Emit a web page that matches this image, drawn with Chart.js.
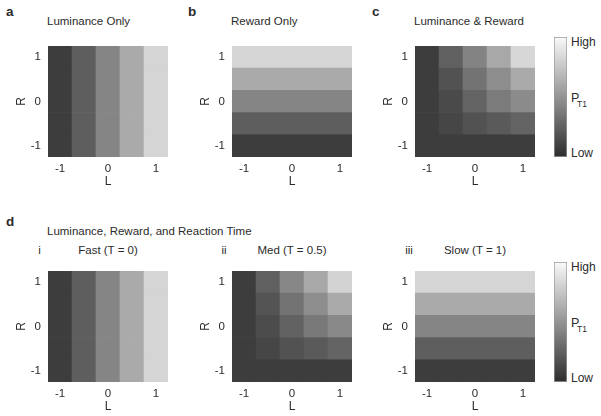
<!DOCTYPE html>
<html>
<head>
<meta charset="utf-8">
<title>P_T1 maps</title>
<script src="https://cdn.jsdelivr.net/npm/chart.js@4.4.0/dist/chart.umd.min.js"></script>
<style>
    body { margin: 0; background: #fff; }
    #fig {
        position: relative;
        width: 601px;
        height: 416px;
        overflow: hidden;
        font-family: "Liberation Sans", Arial, sans-serif;
        color: #2b2b2b;
    }
    #fig canvas { position: absolute; }
    .txt {
        position: absolute;
        white-space: nowrap;
        line-height: 1;
        font-size: 11.5px;
        transform: translateY(-50%);
    }
    .mid { transform: translate(-50%, -50%); }
    .letter { font-weight: bold; font-size: 13.5px; }
</style>
</head>
<body>
<div id="fig"></div>
<script>
// Grid levels (L along x, R along y)
const lLevels = [-1, -0.5, 0, 0.5, 1];
const rLevels = [-1, -0.5, 0, 0.5, 1];
const tickValues = [-1, 0, 1];

// Colour scale range (Low .. High)
const cbarRange = [0, 1];

// P_T1 per cell on the colour scale, rows R = -1 .. 1, columns L = -1 .. 1
const lumOnly = [
    [0.08, 0.24, 0.43, 0.61, 0.82],
    [0.08, 0.24, 0.43, 0.61, 0.82],
    [0.08, 0.24, 0.43, 0.61, 0.82],
    [0.08, 0.24, 0.43, 0.61, 0.82],
    [0.08, 0.24, 0.43, 0.61, 0.82]
];
const rewardOnly = [
    [0.08, 0.08, 0.08, 0.08, 0.08],
    [0.24, 0.24, 0.24, 0.24, 0.24],
    [0.43, 0.43, 0.43, 0.43, 0.43],
    [0.61, 0.61, 0.61, 0.61, 0.61],
    [0.82, 0.82, 0.82, 0.82, 0.82]
];
const lumReward = [
    [0.08, 0.08, 0.08, 0.08, 0.08],
    [0.08, 0.12, 0.18, 0.22, 0.27],
    [0.08, 0.14, 0.27, 0.38, 0.46],
    [0.08, 0.18, 0.34, 0.47, 0.61],
    [0.08, 0.25, 0.42, 0.60, 0.83]
];
const fastT0 = [
    [0.08, 0.24, 0.43, 0.61, 0.82],
    [0.08, 0.24, 0.43, 0.61, 0.82],
    [0.08, 0.24, 0.43, 0.61, 0.82],
    [0.08, 0.24, 0.43, 0.61, 0.82],
    [0.08, 0.24, 0.43, 0.61, 0.82]
];
const medT05 = [
    [0.08, 0.08, 0.08, 0.08, 0.08],
    [0.08, 0.12, 0.18, 0.22, 0.27],
    [0.08, 0.15, 0.26, 0.37, 0.45],
    [0.08, 0.19, 0.34, 0.47, 0.61],
    [0.08, 0.25, 0.44, 0.60, 0.81]
];
const slowT1 = [
    [0.08, 0.08, 0.08, 0.08, 0.08],
    [0.24, 0.24, 0.24, 0.24, 0.24],
    [0.43, 0.43, 0.43, 0.43, 0.43],
    [0.61, 0.61, 0.61, 0.61, 0.61],
    [0.82, 0.82, 0.82, 0.82, 0.82]
];

const FONT = '"Liberation Sans", Arial, sans-serif';
const INK = '#2b2b2b';
Chart.defaults.font.family = FONT;
Chart.defaults.color = INK;

const fig = document.getElementById('fig');

// gray colormap, dark for low, near white for high
function grayOf(v) {
    const t = (v - cbarRange[0]) / (cbarRange[1] - cbarRange[0]);
    const g = Math.round(45 + t * 205);
    return 'rgb(' + g + ',' + g + ',' + g + ')';
}

function addCanvas(left, top, w, h) {
    const c = document.createElement('canvas');
    c.width = w;
    c.height = h;
    c.style.left = left + 'px';
    c.style.top = top + 'px';
    fig.appendChild(c);
    return c;
}

function addText(html, x, y, cls, size) {
    const el = document.createElement('div');
    el.className = 'txt ' + (cls || '');
    el.innerHTML = html;
    el.style.left = x + 'px';
    el.style.top = y + 'px';
    if (size) el.style.fontSize = size + 'px';
    fig.appendChild(el);
}

// plotLeft / plotTop = corner of the 120x120 image
function drawHeatmap(plotLeft, plotTop, grid) {
    const canvas = addCanvas(plotLeft - 40, plotTop - 5, 165, 159);
    const half = (rLevels[1] - rLevels[0]) / 2;

    new Chart(canvas, {
        type: 'bar',
        data: {
            labels: lLevels.map(String),
            datasets: rLevels.map((r, i) => ({
                data: lLevels.map(() => [r - half, r + half]),
                backgroundColor: grid[i].map(grayOf),
                borderWidth: 0,
                barPercentage: 1,
                categoryPercentage: 1,
                grouped: false
            }))
        },
        options: {
            responsive: false,
            animation: false,
            devicePixelRatio: 1,
            layout: { padding: { top: 5, right: 5, left: 0, bottom: 0 } },
            plugins: {
                legend: { display: false },
                tooltip: { enabled: false }
            },
            scales: {
                x: {
                    type: 'category',
                    grid: { display: false, drawTicks: false },
                    border: { display: false },
                    ticks: {
                        autoSkip: false,
                        maxRotation: 0,
                        padding: 5,
                        color: INK,
                        font: { size: 11.5 },
                        callback: function (val, i) {
                            return tickValues.includes(lLevels[i]) ? String(lLevels[i]) : '';
                        }
                    },
                    title: {
                        display: true,
                        text: 'L',
                        color: INK,
                        font: { size: 12 },
                        padding: { top: 0, bottom: 2 }
                    },
                    afterFit: function (s) { s.height = 34; }
                },
                y: {
                    type: 'linear',
                    min: rLevels[0] - half,
                    max: rLevels[rLevels.length - 1] + half,
                    grid: { display: false, drawTicks: false },
                    border: { display: false },
                    afterBuildTicks: function (s) {
                        s.ticks = tickValues.map(v => ({ value: v }));
                    },
                    ticks: {
                        padding: 7,
                        color: INK,
                        font: { size: 11.5 }
                    },
                    title: {
                        display: true,
                        text: 'R',
                        color: INK,
                        font: { size: 12 },
                        padding: { top: 6, bottom: 0 }
                    },
                    afterFit: function (s) { s.width = 40; }
                }
            }
        }
    });
}

function drawColorbar(left, top) {
    const canvas = addCanvas(left, top, 13, 120);

    new Chart(canvas, {
        type: 'bar',
        data: {
            labels: ['PT1'],
            datasets: [{
                data: [cbarRange],
                backgroundColor: function (c) {
                    const a = c.chart.chartArea;
                    if (!a) return null;
                    const g = c.chart.ctx.createLinearGradient(0, a.bottom, 0, a.top);
                    g.addColorStop(0, grayOf(cbarRange[0]));
                    g.addColorStop(1, grayOf(cbarRange[1]));
                    return g;
                },
                borderColor: '#9a9a9a',
                borderWidth: 1,
                borderSkipped: false,
                barPercentage: 1,
                categoryPercentage: 1
            }]
        },
        options: {
            responsive: false,
            animation: false,
            devicePixelRatio: 1,
            layout: { padding: 0 },
            plugins: {
                legend: { display: false },
                tooltip: { enabled: false }
            },
            scales: {
                x: { display: false },
                y: { display: false, min: cbarRange[0], max: cbarRange[1] }
            }
        }
    });

    addText('High', left + 17, top + 5, '', 12);
    addText('Low', left + 17, top + 116, '', 12);
    addText('P', left + 17, top + 60.5, '', 12.5);
    addText('T1', left + 23, top + 67, '', 8.5);
}

// Top row
addText('a', 6, 12, 'letter');
addText('b', 188, 12, 'letter');
addText('c', 372, 12, 'letter');
addText('Luminance Only', 47, 22);
addText('Reward Only', 231, 22);
addText('Luminance &amp; Reward', 414, 22);
drawHeatmap(48, 37, lumOnly);
drawHeatmap(232, 37, rewardOnly);
drawHeatmap(415, 37, lumReward);
drawColorbar(554, 37);

// Bottom row (d)
addText('d', 6, 222, 'letter');
addText('Luminance, Reward, and Reaction Time', 47, 232);
addText('i', 39.5, 251, 'mid');
addText('ii', 224, 251, 'mid');
addText('iii', 409, 251, 'mid');
addText('Fast (T = 0)', 108, 251, 'mid');
addText('Med (T = 0.5)', 292, 251, 'mid');
addText('Slow (T = 1)', 475, 251, 'mid');
drawHeatmap(48, 262, fastT0);
drawHeatmap(232, 262, medT05);
drawHeatmap(415, 262, slowT1);
drawColorbar(554, 262);
</script>
</body>
</html>
